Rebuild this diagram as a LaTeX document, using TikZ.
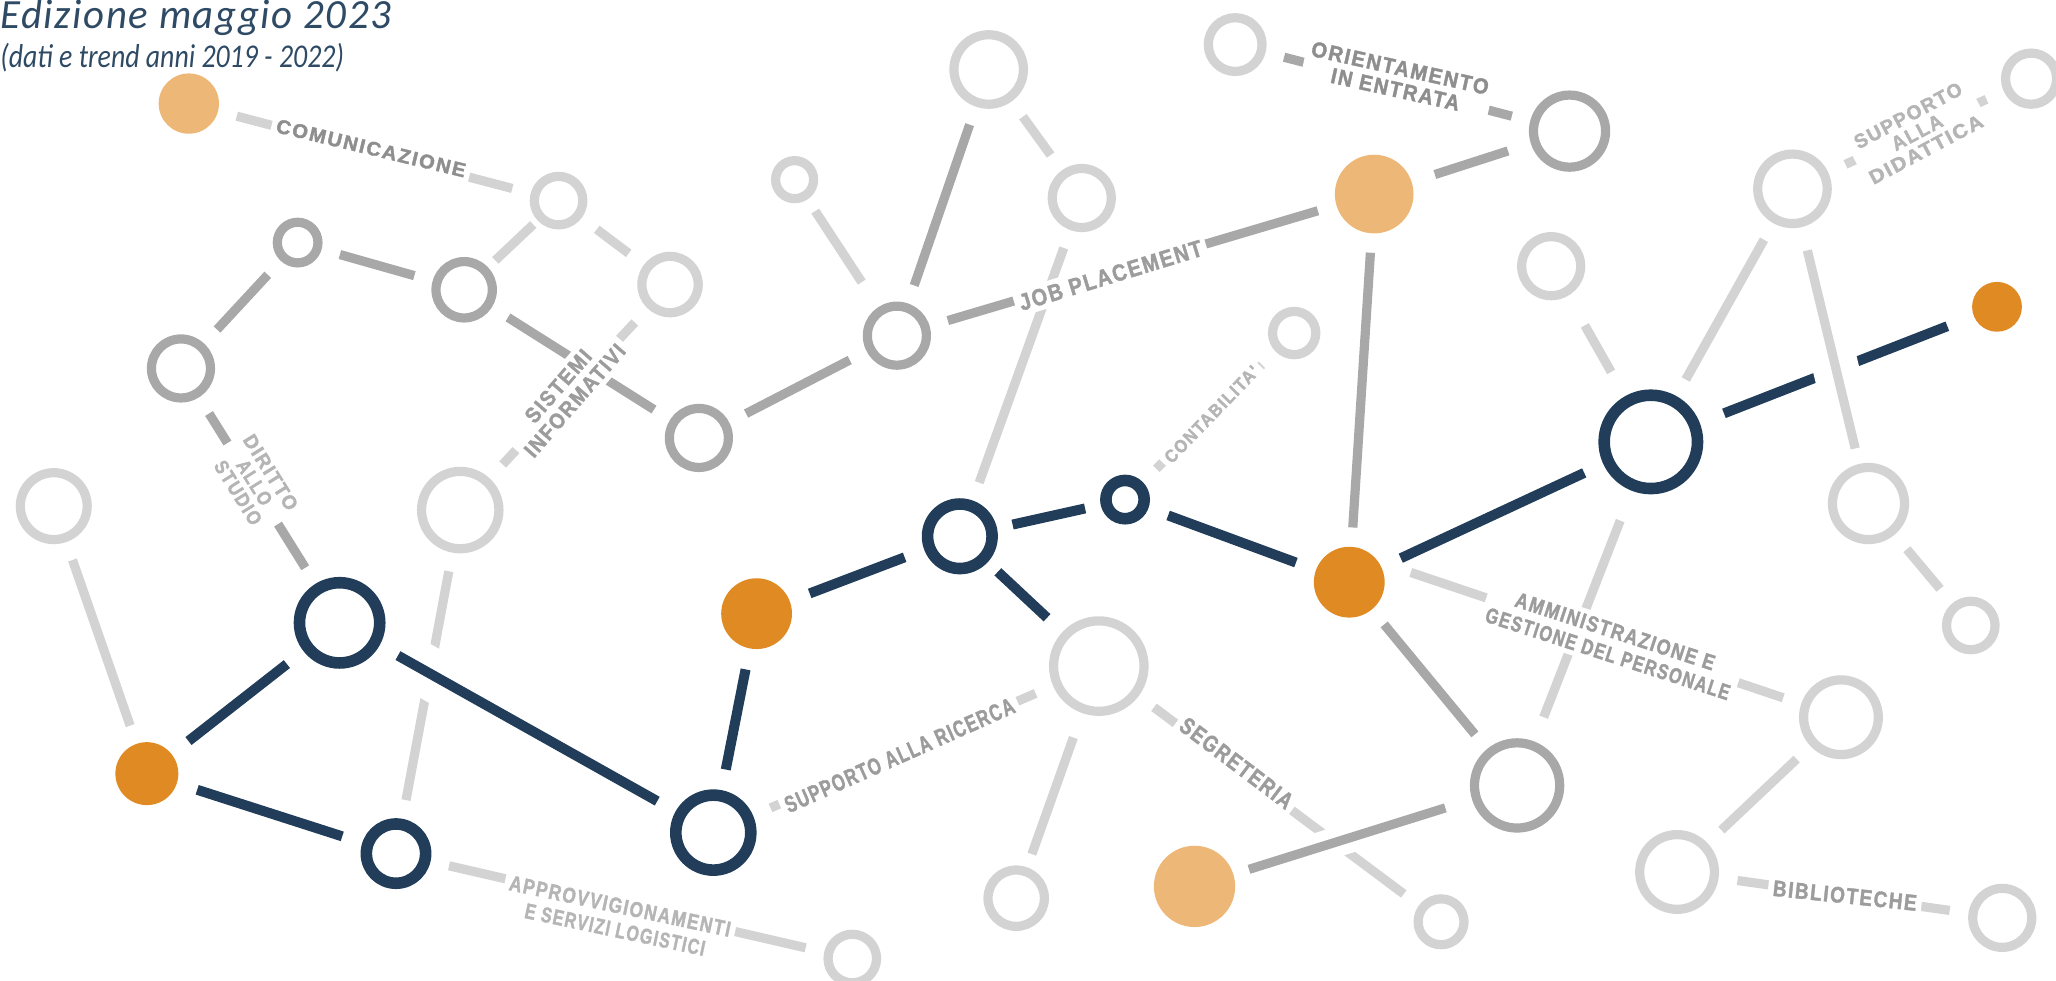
\documentclass[tikz,border=0pt]{standalone}
\usepackage{fontspec}
\usepackage{graphicx}
\setmainfont{Carlito}
\newfontfamily\titlefont{Carlito}[LetterSpace=4]
\newfontfamily\lblfont{Liberation Sans}[FakeStretch=0.8, LetterSpace=7, BoldFeatures={FakeBold=1.6}]
\newlength\su
\setlength\su{0.6556pt}
% label text squeezed to a given length and cap height
\newcommand\lbl[3]{\resizebox{#1\su}{#2\su}{\lblfont\bfseries #3}}

\definecolor{navy}{HTML}{213D59}
\definecolor{orng}{HTML}{E08A24}
\definecolor{lorng}{HTML}{EDB777}
\definecolor{mgray}{HTML}{A8A8A8}
\definecolor{lgray}{HTML}{D3D3D3}
\definecolor{titleblue}{HTML}{2E4A64}
\definecolor{tdark}{HTML}{8E8E8E}
\definecolor{tmid}{HTML}{9C9C9C}
\definecolor{tlight}{HTML}{B5B5B5}

\tikzset{
  lring/.style={circle, draw=lgray, line width=4.6pt, inner sep=0pt, minimum size={(2*#1-7)*0.6556pt}},
  mring/.style={circle, draw=mgray, line width=4.6pt, inner sep=0pt, minimum size={(2*#1-7)*0.6556pt}},
  nring/.style={circle, draw=navy, line width=5.8pt, inner sep=0pt, minimum size={(2*#1-8.8)*0.6556pt}},
  odisc/.style={circle, fill=orng, inner sep=0pt, minimum size={2*#1*0.6556pt}},
  pdisc/.style={circle, fill=lorng, inner sep=0pt, minimum size={2*#1*0.6556pt}},
  lcon/.style={draw=lgray, line width=4.6pt, shorten <=9.5pt, shorten >=9.5pt},
  mcon/.style={draw=mgray, line width=4.6pt, shorten <=9.5pt, shorten >=9.5pt},
  ncon/.style={draw=navy, line width=5pt, shorten <=10.5pt, shorten >=10.5pt},
  halo/.style={draw=white, line width=#1, shorten <=16pt, shorten >=16pt},
  lab/.style={fill=white, inner sep=2.5pt, align=center, text=#1},
}

\begin{document}
\begin{tikzpicture}[x=0.6556pt, y=-0.6556pt]
\path[use as bounding box] (0,0) rectangle (1568,748);
\clip (0,0) rectangle (1568,748);

% heading
\node[anchor=base west, inner sep=0pt, text=titleblue] (title) at (0,21.5)
  {\resizebox{298\su}{22\su}{\titlefont\itshape Edizione maggio 2023}};
\node[anchor=base west, inner sep=0pt, text=titleblue] (subtitle) at (0,51.5)
  {\resizebox{262\su}{18.5\su}{\itshape (dati e trend anni 2019 - 2022)}};

% circles
\node[pdisc=23] (A) at (144,79) {};
\node[lring=22] (B) at (426,153) {};
\node[mring=19] (C) at (227,185) {};
\node[mring=25] (D) at (354,221) {};
\node[lring=25] (E) at (511,217) {};
\node[mring=26] (F) at (138,281) {};
\node[lring=33] (G) at (351,389) {};
\node[lring=29] (H) at (41,386) {};
\node[mring=26] (I) at (533,334) {};
\node[nring=35] (J) at (259,475) {};
\node[odisc=24] (K) at (112,590) {};
\node[nring=27] (L) at (302,651) {};
\node[nring=33] (M) at (544,635) {};
\node[odisc=27] (N) at (577,468) {};
\node[nring=29] (O) at (732,409) {};
\node[nring=19] (P) at (858,381) {};
\node[odisc=27] (Q) at (1029,444) {};
\node[nring=40] (R) at (1259,337) {};
\node[odisc=19] (S) at (1523,234) {};
\node[pdisc=30] (T) at (1048,148) {};
\node[mring=31] (U) at (1197,100) {};
\node[lring=24] (V) at (942,34) {};
\node[lring=30] (W) at (754,53) {};
\node[lring=18] (X) at (606,137) {};
\node[lring=26] (Y) at (825,151) {};
\node[mring=26] (Z) at (684,256) {};
\node[lring=20] (AA) at (987,254) {};
\node[lring=26] (AB) at (1183,203) {};
\node[lring=30] (AC) at (1367,144) {};
\node[lring=23] (AD) at (1549,60) {};
\node[lring=31] (AE) at (1425,384) {};
\node[lring=22] (AF) at (1503,477) {};
\node[lring=38] (AG) at (838,508) {};
\node[mring=36] (AH) at (1157,599) {};
\node[pdisc=31] (AI) at (911,676) {};
\node[lring=21] (AJ) at (1099,703) {};
\node[lring=25] (AK) at (775,685) {};
\node[lring=22] (AL) at (650,731) {};
\node[lring=32] (AM) at (1404,547) {};
\node[lring=32] (AN) at (1279,665) {};
\node[lring=26] (AO) at (1527,700) {};

% grey connectors
\draw[lcon] (A) -- (B);
\draw[lcon, shorten <=3pt, shorten >=5pt] (B) -- (D);
\draw[lcon] (B) -- (E);
\draw[lcon] (E) -- (G);
\draw[lcon] (G) -- (L);
\draw[lcon] (H) -- (K);
\draw[lcon] (L) -- (AL);
\draw[lcon] (M) -- (AG);
\draw[lcon] (O) -- (Y);
\draw[lcon] (W) -- (Y);
\draw[lcon, shorten <=7pt, shorten >=15pt] (X) -- (Z);
\draw[lcon] (P) -- (AA);
\draw[lcon, shorten <=14pt, shorten >=17pt] (R) -- (AB);
\draw[lcon] (R) -- (AC);
\draw[lcon] (AC) -- (AD);
\draw[lcon] (AE) -- (AF);
\draw[lcon, shorten <=17pt] (Q.35) -- (AM);
\draw[lcon, shorten <=16pt, shorten >=13pt] (R) -- (AH);
\draw[lcon] (AG) -- (AJ);
\draw[lcon, shorten <=13pt, shorten >=7pt] (AG) -- (AK);
\draw[lcon] (AM) -- (AN);
\draw[lcon] (AN) -- (AO);
\draw[mcon] (C) -- (D);
\draw[mcon] (C) -- (F);
\draw[mcon] (D) -- (I);
\draw[mcon] (F) -- (J);
\draw[mcon] (W) -- (Z);
\draw[mcon] (Z) -- (I);
\draw[mcon] (Z) -- (T);
\draw[mcon] (V) -- (U);
\draw[mcon, shorten <=12pt, shorten >=12pt] (T) -- (U);
\draw[mcon] (T) -- (Q);
\draw[mcon] (Q) -- (AH);

% office labels
\node[lab=tdark, rotate=-13.5] (lCom) at (283,113) {\lbl{148}{10.5}{COMUNICAZIONE}};
\node[lab=tmid, rotate=49, font=\fontsize{6}{11}\selectfont] (lSis) at (432,300)
  {\lbl{68}{11.5}{SISTEMI}\\\lbl{108}{11.5}{INFORMATIVI}};
\node[lab=tlight, rotate=-58, font=\fontsize{6}{9.6}\selectfont] (lDir) at (194,368)
  {\lbl{65}{10.5}{DIRITTO}\\\lbl{38}{10.5}{ALLO}\\\lbl{55}{10.5}{STUDIO}};
\node[lab=tmid, rotate=17] (lJob) at (847,210) {\lbl{145}{12.5}{JOB PLACEMENT}};
\node[lab=tdark, rotate=-12.5, font=\fontsize{6}{11}\selectfont] (lOri) at (1066,60)
  {\lbl{138}{11.5}{ORIENTAMENTO}\\\lbl{100}{11.5}{IN ENTRATA}};
\node[lab=tlight, rotate=46] (lCon) at (924,316) {\lbl{97}{9.5}{CONTABILITA'}};
\node[lab=tlight, rotate=28, font=\fontsize{6}{9.6}\selectfont] (lDid) at (1462,101)
  {\lbl{91}{10.5}{SUPPORTO}\\\lbl{42}{10.5}{ALLA}\\\lbl{96}{10.5}{DIDATTICA}};
\node[lab=tmid, rotate=-18, font=\fontsize{6}{11.8}\selectfont] (lAmm) at (1229,490)
  {\lbl{159}{11.5}{AMMINISTRAZIONE E}\\\lbl{195}{11.5}{GESTIONE DEL PERSONALE}};
\node[lab=tmid, rotate=-37] (lSeg) at (943,582) {\lbl{103}{12.5}{SEGRETERIA}};
\node[lab=tmid, rotate=24] (lRic) at (686,576) {\lbl{190}{12.5}{SUPPORTO ALLA RICERCA}};
\node[lab=tlight, rotate=-12, font=\fontsize{6}{12}\selectfont] (lApp) at (471,700)
  {\lbl{172}{11.5}{APPROVVIGIONAMENTI}\\\lbl{140}{11.5}{E SERVIZI LOGISTICI}};
\node[lab=tmid, rotate=-6] (lBib) at (1407,683) {\lbl{110}{12}{BIBLIOTECHE}};

% navy connectors
\draw[halo=26pt] (J) -- (M);
\draw[ncon] (J) -- (M);
\draw[ncon] (J) -- (K);
\draw[ncon] (K) -- (L);
\draw[ncon] (M) -- (N);
\draw[ncon] (N) -- (O);
\draw[ncon, shorten <=8pt, shorten >=8pt] (O) -- (P);
\draw[ncon, shorten <=7pt] (O) -- (AG);
\draw[ncon] (P) -- (Q);
\draw[ncon] (Q) -- (R);
\draw[ncon, shorten <=13pt, shorten >=14pt] (R) -- (S);

% grey connectors passing over others
\draw[halo=15pt] (AI) -- (AH);
\draw[mcon, shorten <=8pt, shorten >=14pt] (AI) -- (AH);
\draw[halo=23pt] (AC) -- (AE);
\draw[lcon, shorten <=12pt, shorten >=8pt] (AC) -- (AE);
\end{tikzpicture}
\end{document}
